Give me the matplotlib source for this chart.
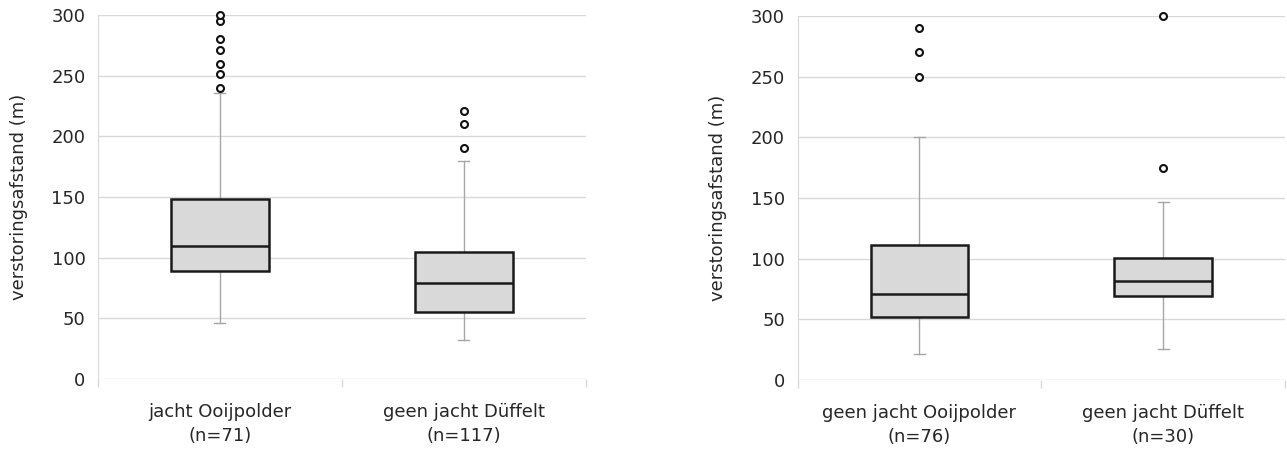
import matplotlib
matplotlib.use("Agg")
import matplotlib.pyplot as plt

# ==== data ====
labels_left = ["jacht Ooijpolder\n(n=71)", "geen jacht Düffelt\n(n=117)"]
labels_right = ["geen jacht Ooijpolder\n(n=76)", "geen jacht Düffelt\n(n=30)"]

q1_left = [88.7, 55.2]
med_left = [110.0, 79.4]
q3_left = [148.0, 105.0]
whislo_left = [46.0, 32.0]
whishi_left = [235.5, 180.0]
fliers_left = [[240, 251, 260, 271, 280, 295, 300], [190, 210.5, 221]]

q1_right = [52.2, 69.5]
med_right = [71.0, 82.0]
q3_right = [111.5, 100.8]
whislo_right = [21.5, 25.5]
whishi_right = [200.0, 146.5]
fliers_right = [[250, 270.5, 290.5], [175, 300]]

yticks = [0, 50, 100, 150, 200, 250, 300]
ylabel = "verstoringsafstand (m)"

plt.rcParams['font.family'] = ['DejaVu Sans']
TXT = "#262626"
GRID = "#d9d9d9"


def make_stats(q1, med, q3, lo, hi, fliers):
    stats = []
    for i in range(len(q1)):
        stats.append({"q1": q1[i], "med": med[i], "q3": q3[i],
                      "whislo": lo[i], "whishi": hi[i], "fliers": fliers[i]})
    return stats


def draw_panel(ax, stats, labels):
    ax.bxp(stats, positions=[1, 2], widths=0.4, patch_artist=True,
           showfliers=True, capwidths=0.045,
           boxprops=dict(facecolor="#d9d9d9", edgecolor="#1a1a1a", linewidth=1.8, zorder=3),
           medianprops=dict(color="#1a1a1a", linewidth=1.8, zorder=4),
           whiskerprops=dict(color="#a6a6a6", linewidth=1),
           capprops=dict(color="#a6a6a6", linewidth=1),
           flierprops=dict(marker="o", markersize=5, markerfacecolor="white",
                           markeredgecolor="#111111", markeredgewidth=1.5))
    ax.set_xlim(0.5, 2.5)
    ax.set_ylim(0, 300)
    ax.set_yticks(yticks)
    ax.yaxis.grid(True, color=GRID, linewidth=1, zorder=0)
    ax.set_axisbelow(True)
    for s in ["top", "right", "bottom"]:
        ax.spines[s].set_visible(False)
    ax.spines["left"].set_color(GRID)
    ax.spines["left"].set_bounds(-5, 300)
    ax.tick_params(axis="y", length=0, pad=9, labelsize=13, labelcolor=TXT)
    ax.set_xticks([1, 2])
    ax.set_xticklabels(labels, fontsize=13, color=TXT, linespacing=1.45)
    ax.tick_params(axis="x", which="major", length=0, pad=17)
    ax.set_xticks([0.5, 1.5, 2.5], minor=True)
    ax.tick_params(axis="x", which="minor", length=6, color=GRID, width=1)
    ax.set_ylabel(ylabel, fontsize=13, color=TXT, labelpad=17)


fig = plt.figure(figsize=(12.87, 4.57), dpi=100)
ax1 = fig.add_axes([0.0761, 0.1707, 0.3792, 0.7965])
ax2 = fig.add_axes([0.6197, 0.1685, 0.3788, 0.7965])

draw_panel(ax1, make_stats(q1_left, med_left, q3_left, whislo_left, whishi_left, fliers_left), labels_left)
draw_panel(ax2, make_stats(q1_right, med_right, q3_right, whislo_right, whishi_right, fliers_right), labels_right)

for a in (ax1, ax2):
    for ln in a.lines:
        ln.set_clip_on(False)

fig.savefig("out.png", dpi=100)
